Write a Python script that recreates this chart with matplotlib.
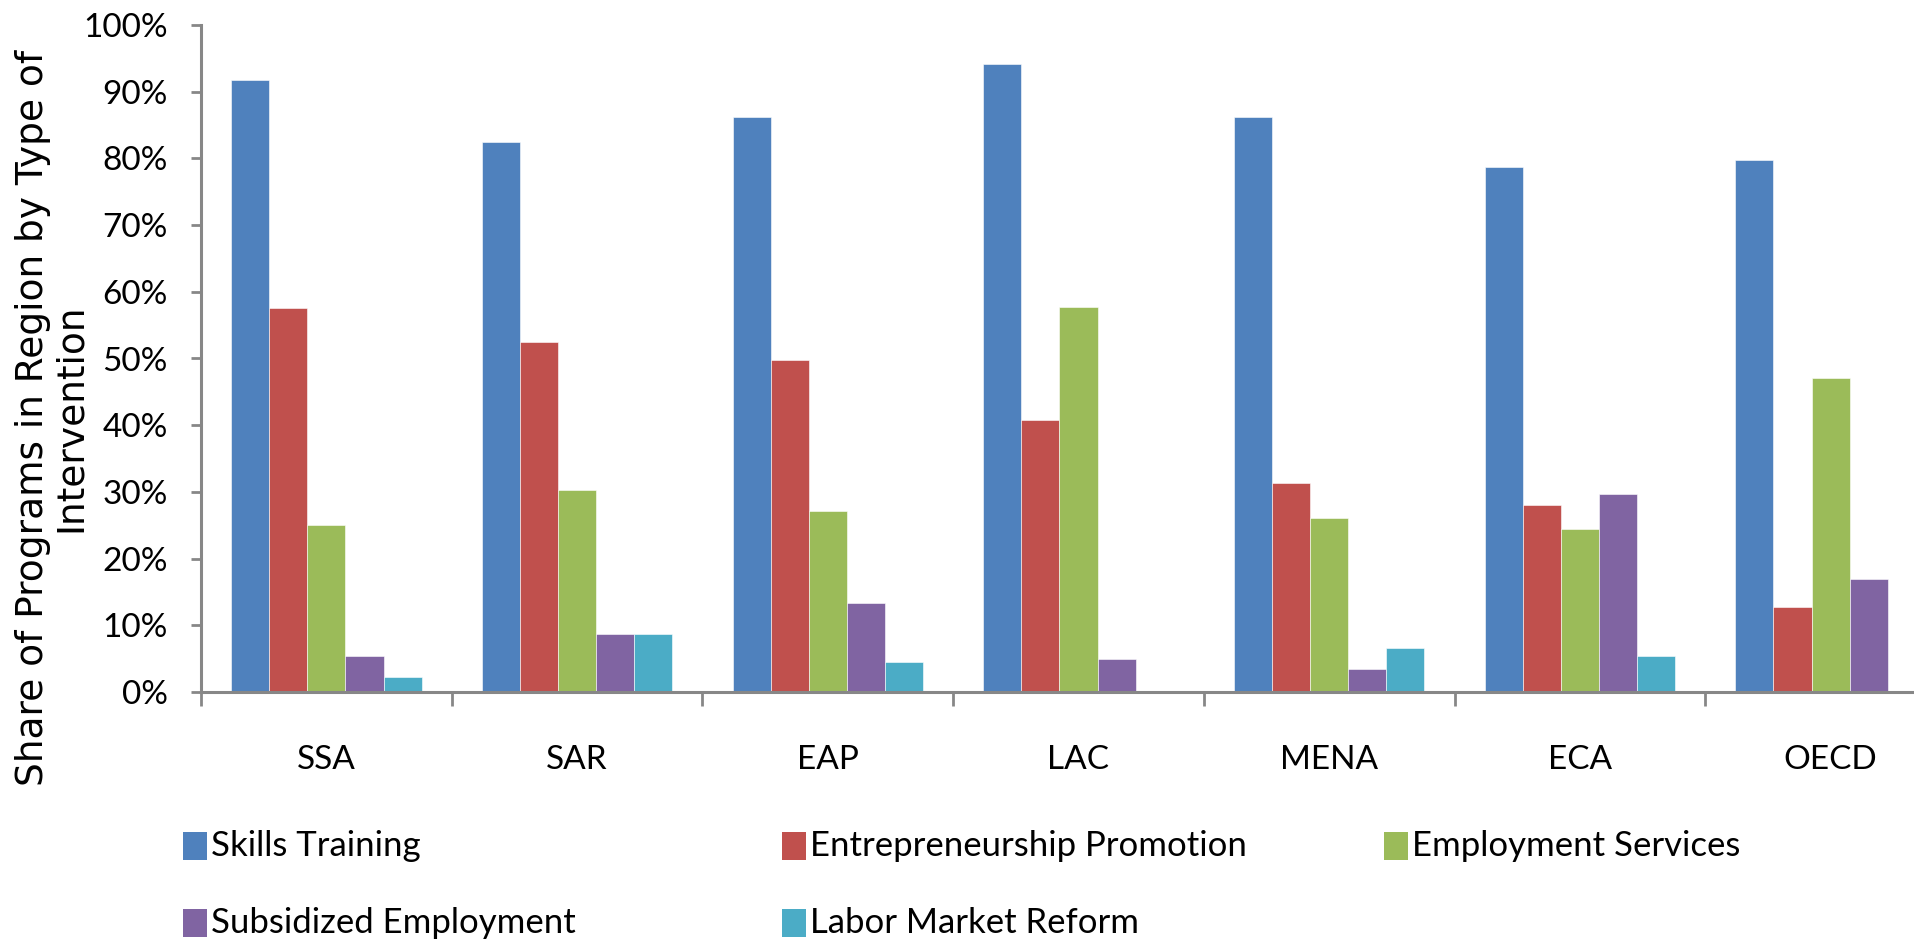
import matplotlib
matplotlib.use("Agg")
import matplotlib.pyplot as plt
from matplotlib.patches import Rectangle

regions = ["SSA", "SAR", "EAP", "LAC", "MENA", "ECA", "OECD"]
series = ["Skills Training", "Entrepreneurship Promotion", "Employment Services",
          "Subsidized Employment", "Labor Market Reform"]
skills = [0.918, 0.824, 0.862, 0.941, 0.862, 0.787, 0.797]
entrep = [0.576, 0.525, 0.498, 0.408, 0.313, 0.281, 0.128]
employ = [0.250, 0.303, 0.271, 0.577, 0.261, 0.244, 0.471]
subsid = [0.054, 0.087, 0.134, 0.050, 0.035, 0.297, 0.170]
reform = [0.023, 0.087, 0.045, 0.000, 0.066, 0.054, 0.000]
values = [skills, entrep, employ, subsid, reform]
colors = ["#4F81BD", "#C0504D", "#9BBB59", "#8064A2", "#4BACC6"]

tick_font = "Lato"
label_font = "DejaVu Sans"

W, H = 1915, 947
fig = plt.figure(figsize=(W / 100, H / 100), dpi=100)
fig.patch.set_facecolor("white")

# plot area runs past the right edge of the figure, as in the original
ax = fig.add_axes([201 / W, 1 - 692 / H, 1755 / W, 667 / H])

bw = 0.152
x = list(range(len(regions)))
for i, (vals, col) in enumerate(zip(values, colors)):
    pos = [xi + (i - 2) * bw for xi in x]
    ax.bar(pos, vals, width=bw, color=col, edgecolor="white", linewidth=0.4)

ax.set_xlim(-0.5, len(regions) - 0.5)
ax.set_ylim(0, 1)
ax.set_yticks([i / 10 for i in range(11)])
ax.set_yticklabels([f"{i * 10}%" for i in range(11)], fontsize=24, family=tick_font)
ax.set_xticks(x)
ax.set_xticklabels(regions, fontsize=24, family=tick_font)
ax.set_xticks([xi - 0.5 for xi in x] + [len(regions) - 0.5], minor=True)
ax.tick_params(axis="x", which="major", length=0, pad=38)
ax.tick_params(axis="x", which="minor", length=10, width=2, color="#878787", direction="out")
ax.tick_params(axis="y", length=7, width=2, color="#878787", pad=17)

for s in ["top", "right"]:
    ax.spines[s].set_visible(False)
for s in ["left", "bottom"]:
    ax.spines[s].set_color("#878787")
    ax.spines[s].set_linewidth(2.2)

fig.text(52 / W, 1 - 418 / H, "Share of Programs in Region by Type of\nIntervention",
         rotation=90, ha="center", va="center", multialignment="center",
         fontsize=27, fontfamily=label_font, linespacing=1.05)

# legend
col_x = [183, 782, 1384]
row_y = [846, 923]
for i, (name, col) in enumerate(zip(series, colors)):
    lx = col_x[i % 3]
    ly = row_y[i // 3]
    fig.patches.append(Rectangle((lx / W, 1 - (ly + 14) / H), 24 / W, 28 / H,
                                 transform=fig.transFigure, facecolor=col,
                                 edgecolor="none"))
    fig.text((lx + 28) / W, 1 - ly / H, name, ha="left", va="center",
             fontsize=25, family=tick_font)

fig.savefig("out.png", dpi=100, facecolor="white")
